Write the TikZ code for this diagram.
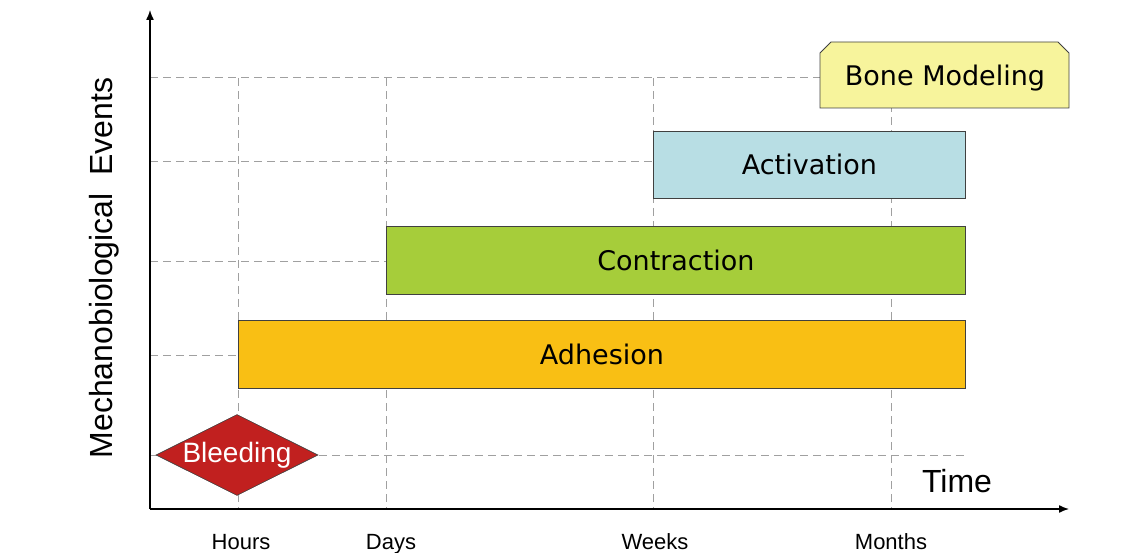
\documentclass[tikz,border=0pt]{standalone}
\usepackage{fontspec}
\setmainfont{Liberation Sans}
\newfontfamily\boxfont{DejaVu Sans}
\usetikzlibrary{arrows.meta,shapes}
\definecolor{boneyellow}{HTML}{F7F49C}
\definecolor{actblue}{HTML}{B8DEE4}
\definecolor{congreen}{HTML}{A6CD3A}
\definecolor{adhorange}{HTML}{F9BF14}
\definecolor{bleedred}{HTML}{C1201F}
\definecolor{gridgray}{HTML}{A0A0A0}

\begin{document}
\begin{tikzpicture}[x=1pt,y=-1pt,>={Latex[length=10pt,width=8pt]}]
  \tikzstyle{grid line}=[gridgray,line width=1pt,dash pattern=on 8pt off 5pt]
  \tikzstyle{phase}=[rectangle,draw=black!75,line width=0.8pt,inner sep=0pt,
                     anchor=north west,font=\boxfont\fontsize{27}{30}\selectfont]
  \tikzstyle{tick label}=[anchor=base,font=\fontsize{22}{24}\selectfont]
  \useasboundingbox (0,0) rectangle (1143,553);
  % axes
  \coordinate (origin) at (150,509);
  \coordinate (ytop) at (150,10);
  \coordinate (xend) at (1069,509);
  % grid
  \foreach \y in {78,162,262,355,455}
    \draw[grid line] (150,\y) -- (965,\y);
  \foreach \x in {238,386,653,891}
    \draw[grid line] (\x,78) -- (\x,509);
  \draw[->,line width=1.4pt] (origin) -- (ytop);
  \draw[->,line width=1.4pt] (origin) -- (xend);
  % phases
  \node[phase,fill=actblue,minimum width=312pt,minimum height=67pt]
    (activation) at (653,131) {Activation};
  \node[phase,fill=congreen,minimum width=579pt,minimum height=68pt]
    (contraction) at (386,226) {Contraction};
  \node[phase,fill=adhorange,minimum width=727pt,minimum height=68pt]
    (adhesion) at (238,320) {Adhesion};
  \draw[draw=black!75,line width=0.8pt,fill=boneyellow]
    (820,108) -- (820,53) -- (831,42) -- (1058,42) -- (1069,53) -- (1069,108) -- cycle;
  \node[font=\boxfont\fontsize{27}{30}\selectfont] (bone) at (945,78) {Bone Modeling};
  \node[diamond,aspect=2,draw=black!75,line width=0.6pt,fill=bleedred,inner sep=0pt,
        minimum width=162pt,minimum height=81pt,text=white,
        font=\fontsize{28}{30}\selectfont] (bleeding) at (237,455) {Bleeding};
  % labels
  \node[tick label] (hours) at (241,549) {Hours};
  \node[tick label] (days) at (391,549) {Days};
  \node[tick label] (weeks) at (655,549) {Weeks};
  \node[tick label] (months) at (891,549) {Months};
  \node[font=\fontsize{32}{34}\selectfont] (time) at (957,481) {Time};
  \node[rotate=90,font=\fontsize{32}{34}\selectfont] (events) at (104,268)
    {Mechanobiological\ \ Events};
\end{tikzpicture}
\end{document}
